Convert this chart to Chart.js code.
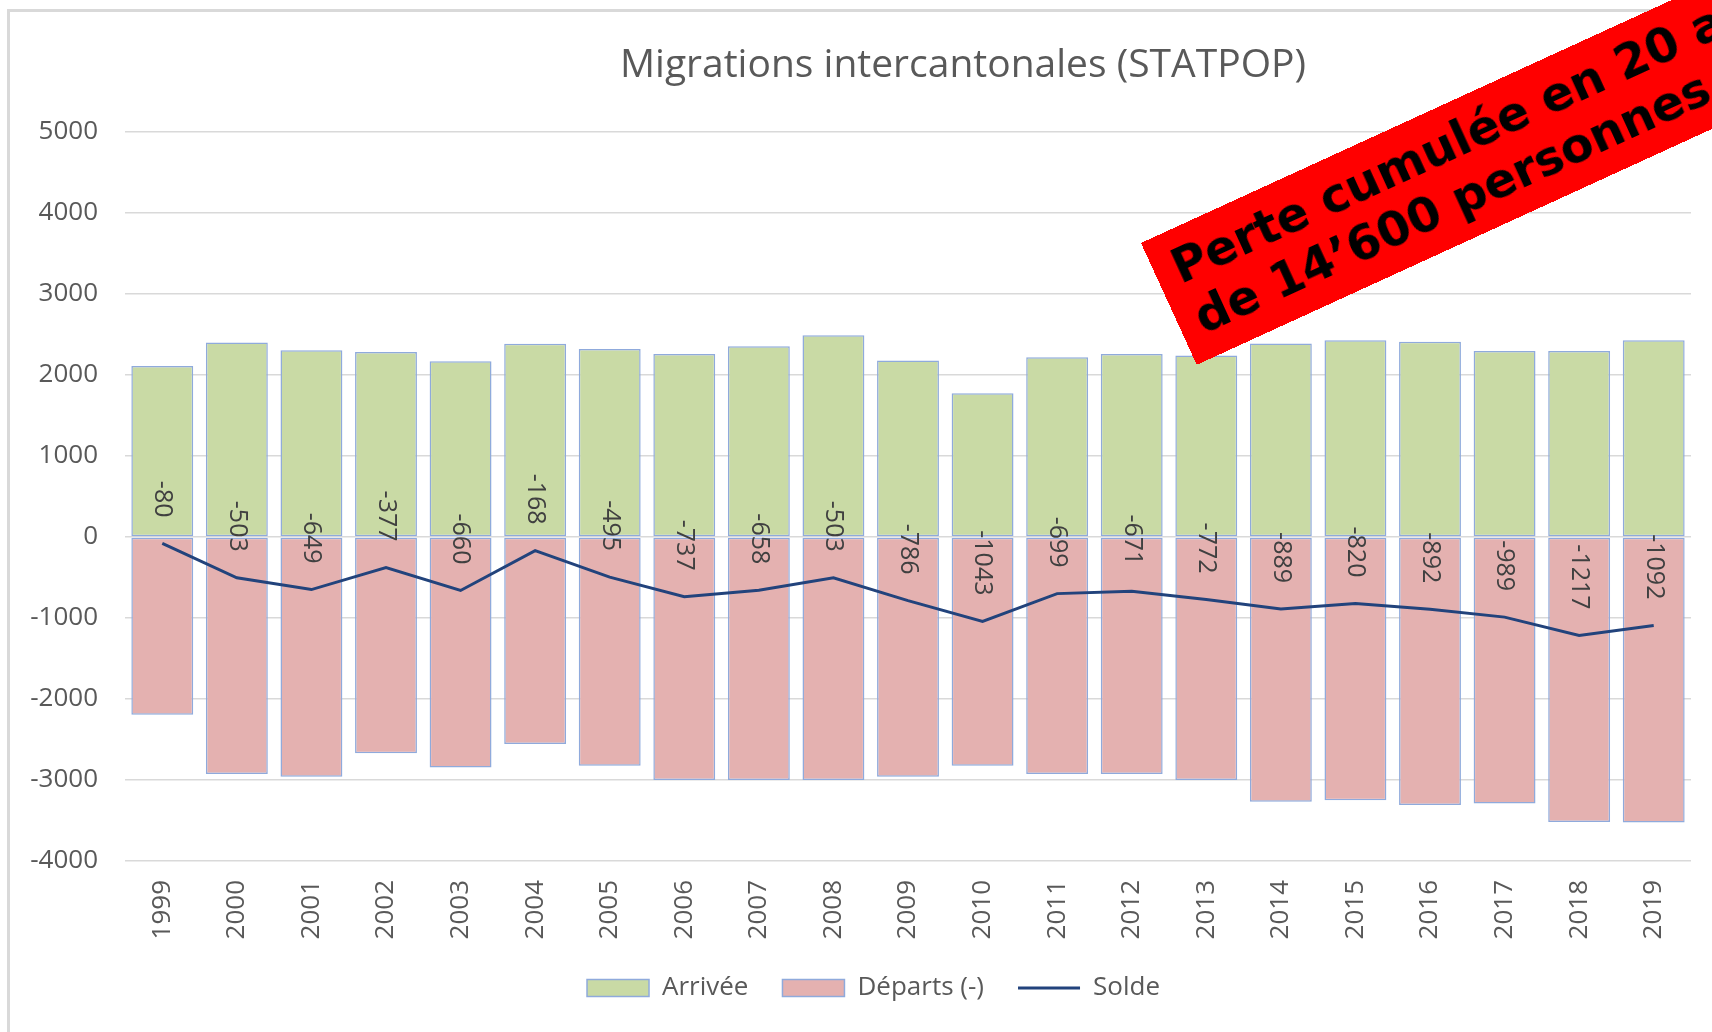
<!DOCTYPE html>
<html><head><meta charset="utf-8">
<script src="https://cdn.jsdelivr.net/npm/chart.js@4.4.1/dist/chart.umd.min.js"></script>
<style>
html,body{margin:0;padding:0;background:#fff;width:1712px;height:1032px;overflow:hidden;position:relative;}
#frame{position:absolute;left:7px;top:9px;width:2000px;height:2000px;border-left:3px solid #D9D9D9;border-top:3px solid #D9D9D9;}
#wrap{position:absolute;left:0;top:0;width:1712px;height:1032px;}
#banner{position:absolute;left:1141px;top:243px;width:900px;height:134px;background:#FF0000;transform-origin:0 0;transform:rotate(-24.6deg);font-family:"DejaVu Sans";font-weight:bold;font-size:47.5px;line-height:55px;color:#000;padding:10px 0 0 19px;box-sizing:border-box;white-space:nowrap;}
</style></head>
<body>
<div id="frame"></div>
<div id="wrap"><canvas id="c"></canvas></div>
<div id="banner">Perte cumulée en 20 ans<br>de 14’600 personnes</div>
<script>
const titleText = 'Migrations intercantonales (STATPOP)';
const years = ['1999','2000','2001','2002','2003','2004','2005','2006','2007','2008','2009','2010','2011','2012','2013','2014','2015','2016','2017','2018','2019'];
const arrivals = [2110,2400,2305,2285,2170,2385,2320,2260,2355,2490,2180,1775,2220,2260,2240,2390,2430,2410,2295,2295,2430];
const departures = [-2195,-2925,-2960,-2670,-2845,-2555,-2825,-3000,-3000,-3000,-2960,-2825,-2925,-2925,-3000,-3270,-3250,-3310,-3290,-3520,-3525];
const solde = [-80,-503,-649,-377,-660,-168,-495,-737,-658,-503,-786,-1043,-699,-671,-772,-889,-820,-892,-989,-1217,-1092];
const yTicks = [-4000,-3000,-2000,-1000,0,1000,2000,3000,4000,5000];
const seriesNames = ['Arrivée','Départs (-)','Solde'];

Chart.defaults.font.family = '"Open Sans"';
Chart.defaults.color = '#595959';

const titlePlugin = {
  id:'customTitle',
  afterDraw(chart){
    const ctx = chart.ctx;
    ctx.save();
    ctx.font = '39px "Open Sans"';
    ctx.fillStyle = '#595959';
    ctx.textAlign = 'center';
    ctx.textBaseline = 'alphabetic';
    ctx.fillText(titleText, 963, 77);
    ctx.restore();
  }
};
const labelPlugin = {
  id:'soldeLabels',
  afterDatasetsDraw(chart){
    const meta = chart.getDatasetMeta(2);
    const ctx = chart.ctx;
    ctx.save();
    ctx.font = '25px "Open Sans"';
    ctx.fillStyle = '#404040';
    ctx.textAlign = 'right';
    ctx.textBaseline = 'middle';
    meta.data.forEach((pt,i)=>{
      ctx.save();
      ctx.translate(pt.x, pt.y - 26);
      ctx.rotate(Math.PI/2);
      ctx.fillText(String(solde[i]), 0, 0);
      ctx.restore();
    });
    ctx.restore();
  }
};

new Chart(document.getElementById('c'), {
  data: {
    labels: years,
    datasets: [
      {type:'bar', label:seriesNames[0], data:arrivals, backgroundColor:'#C9DAA5', borderColor:'#8FAADC', borderWidth:1.5, borderSkipped:false, stack:'m', barPercentage:0.83, categoryPercentage:1, order:1},
      {type:'bar', label:seriesNames[1], data:departures, backgroundColor:'#E4B1B0', borderColor:'#8FAADC', borderWidth:1.5, borderSkipped:false, stack:'m', barPercentage:0.83, categoryPercentage:1, order:1},
      {type:'line', label:seriesNames[2], data:solde, borderColor:'#22437C', backgroundColor:'#22437C', borderWidth:3, pointRadius:0, fill:false, tension:0, stack:'s', order:0}
    ]
  },
  options: {
    responsive:true, maintainAspectRatio:false, animation:false, devicePixelRatio:1,
    layout:{padding:{left:56, right:21, top:132, bottom:21}},
    plugins:{
      title:{display:false},
      tooltip:{enabled:false},
      legend:{
        position:'bottom',
        labels:{
          usePointStyle:true, pointStyleWidth:62, boxHeight:17, padding:34,
          color:'#595959', font:{size:26},
          sort:(a,b)=>a.datasetIndex-b.datasetIndex,
          generateLabels(chart){
            const items = Chart.defaults.plugins.legend.labels.generateLabels(chart);
            items.forEach(it=>{
              if (it.datasetIndex===2){ it.pointStyle='line'; it.lineWidth=3; it.strokeStyle='#22437C'; }
              else { it.pointStyle='rect'; it.lineWidth=1.5; }
            });
            return items;
          }
        }
      }
    },
    scales:{
      x:{
        stacked:true,
        grid:{display:false, drawTicks:false},
        border:{display:false},
        ticks:{minRotation:90, maxRotation:90, autoSkip:false, padding:19, font:{size:26}, color:'#595959'},
        afterFit(s){ s.height = 80; }
      },
      y:{
        stacked:true, min:-4000, max:5000,
        grid:{color:'#D9D9D9', lineWidth:1.5, drawTicks:false},
        border:{display:false},
        ticks:{padding:27, font:{size:26}, color:'#595959', callback:(v)=>String(v)},
        afterBuildTicks(s){ s.ticks = yTicks.map(v=>({value:v})); },
        afterFit(s){ s.width = 69; s._computeLabelArea = () => undefined; }
      }
    }
  },
  plugins:[titlePlugin, labelPlugin]
});
</script>
</body></html>
